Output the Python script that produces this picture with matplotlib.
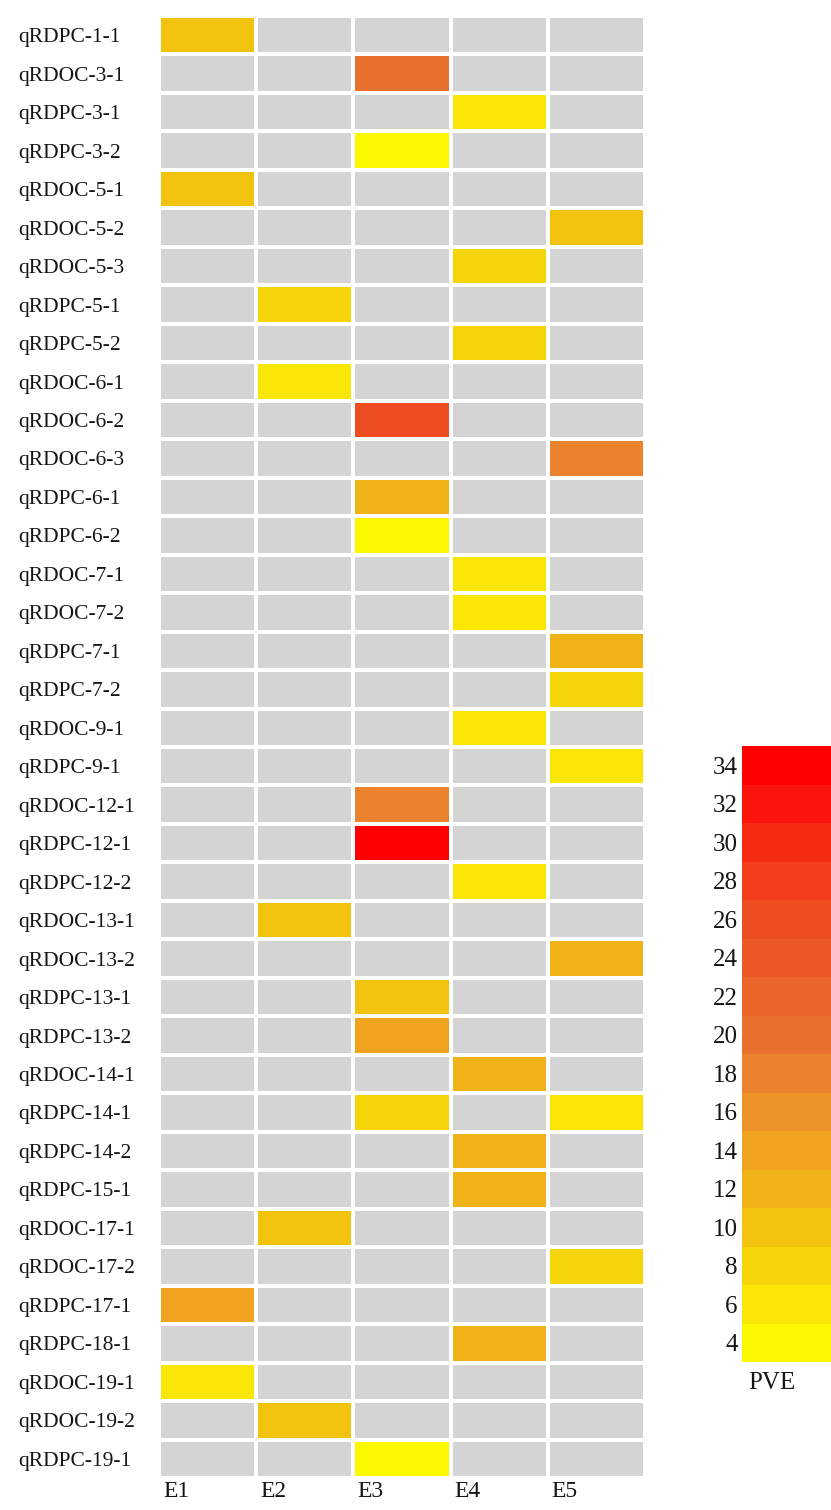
import numpy as np
import matplotlib
matplotlib.use("Agg")
import matplotlib.pyplot as plt
from matplotlib.colors import LinearSegmentedColormap, BoundaryNorm, ListedColormap

# QTL names (rows) and environments (columns)
qtls = ["qRDPC-1-1", "qRDOC-3-1", "qRDPC-3-1", "qRDPC-3-2", "qRDOC-5-1", "qRDOC-5-2",
        "qRDOC-5-3", "qRDPC-5-1", "qRDPC-5-2", "qRDOC-6-1", "qRDOC-6-2", "qRDOC-6-3",
        "qRDPC-6-1", "qRDPC-6-2", "qRDOC-7-1", "qRDOC-7-2", "qRDPC-7-1", "qRDPC-7-2",
        "qRDOC-9-1", "qRDPC-9-1", "qRDOC-12-1", "qRDPC-12-1", "qRDPC-12-2", "qRDOC-13-1",
        "qRDOC-13-2", "qRDPC-13-1", "qRDPC-13-2", "qRDOC-14-1", "qRDPC-14-1", "qRDPC-14-2",
        "qRDPC-15-1", "qRDOC-17-1", "qRDOC-17-2", "qRDPC-17-1", "qRDPC-18-1", "qRDOC-19-1",
        "qRDOC-19-2", "qRDPC-19-1"]
envs = ["E1", "E2", "E3", "E4", "E5"]

# PVE (%) detected per QTL: (environment index, value); all other cells are missing
pve_hits = [
    [(0, 10.5)], [(2, 19.5)], [(3, 6.2)], [(2, 4.0)], [(0, 10.8)], [(4, 10.2)],
    [(3, 8.6)], [(1, 7.8)], [(3, 8.4)], [(1, 6.0)], [(2, 26.0)], [(4, 18.2)],
    [(2, 11.6)], [(2, 4.2)], [(3, 6.0)], [(3, 5.8)], [(4, 11.8)], [(4, 7.6)],
    [(3, 6.1)], [(4, 6.3)], [(2, 17.0)], [(2, 34.0)], [(3, 5.6)], [(1, 10.1)],
    [(4, 11.5)], [(2, 9.8)], [(2, 14.0)], [(3, 11.7)], [(2, 7.2), (4, 5.9)], [(3, 11.9)],
    [(3, 12.1)], [(1, 10.3)], [(4, 8.2)], [(0, 14.2)], [(3, 12.2)], [(0, 6.2)],
    [(1, 9.9)], [(2, 4.3)],
]

cbar_ticks = list(range(4, 35, 2))

pve = np.full((len(qtls), len(envs)), np.nan)
for i, hits in enumerate(pve_hits):
    for j, v in hits:
        pve[i, j] = v

# yellow -> orange -> red, cut into 2-unit bands
base = LinearSegmentedColormap.from_list(
    "pve", [(0.0, "#fcf800"), (0.2, "#f2c30e"), (0.43, "#ec8c2c"),
            (0.53, "#e9722e"), (0.77, "#ef4620"), (1.0, "#ff0000")])
bounds = np.arange(3, 36, 2)
cmap = ListedColormap([base(k / (len(bounds) - 2)) for k in range(len(bounds) - 1)])
cmap.set_bad("#d4d4d4")
norm = BoundaryNorm(bounds, cmap.N)

W, H = 831, 1510
fig = plt.figure(figsize=(W / 100, H / 100), dpi=100)
plt.rcParams["font.family"] = ["Liberation Serif", "DejaVu Serif"]
txt = "#151515"

ax = fig.add_axes([159 / W, 1 - 1478 / H, (645 - 159) / W, (1478 - 16) / H])
ax.pcolormesh(np.ma.masked_invalid(pve), cmap=cmap, norm=norm,
              edgecolors="white", linewidth=2.6)
ax.set_xlim(0, len(envs))
ax.set_ylim(len(qtls), 0)
for s in ax.spines.values():
    s.set_visible(False)

ax.set_yticks(np.arange(len(qtls)) + 0.5)
ax.set_yticklabels(qtls, fontsize=15.5, ha="left", color=txt)
ax.tick_params(axis="y", length=0, pad=101)
ax.set_xticks(np.arange(len(envs)) + 0.04)
ax.set_xticklabels(envs, fontsize=17, ha="left", color=txt)
ax.tick_params(axis="x", length=0, pad=2)

cax = fig.add_axes([742 / W, 1 - 1362 / H, (W - 742) / W, (1362 - 746) / H])
sm = plt.cm.ScalarMappable(cmap=cmap, norm=norm)
cb = fig.colorbar(sm, cax=cax, ticks=cbar_ticks)
cb.outline.set_visible(False)
cax.minorticks_off()
cax.yaxis.set_ticks_position("left")
cax.tick_params(which="both", length=0, labelsize=18, pad=3, labelcolor=txt)
cax.set_xlabel("PVE", fontsize=18, color=txt, loc="left")
cax.xaxis.set_label_coords(0.07, -0.016)

fig.savefig("out.png", dpi=100, facecolor="white")
